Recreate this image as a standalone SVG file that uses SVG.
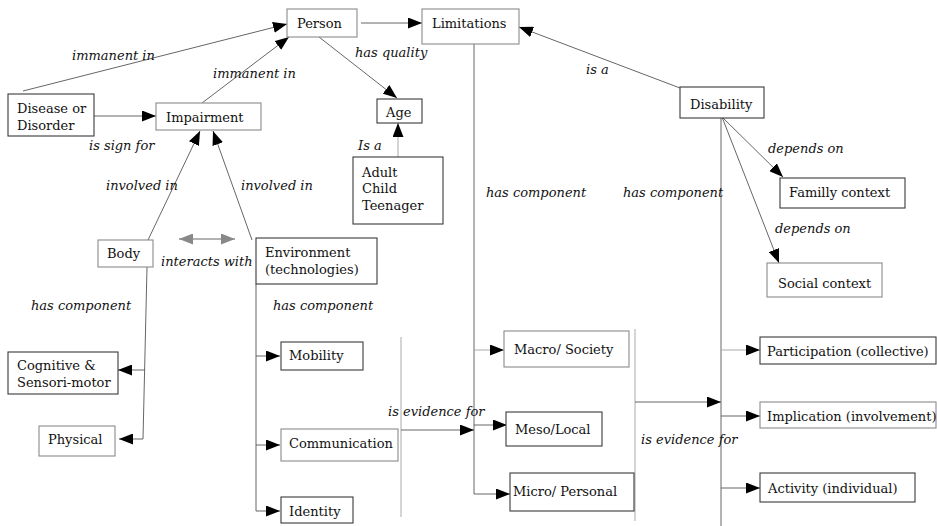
<svg xmlns="http://www.w3.org/2000/svg" width="937" height="526" viewBox="0 0 937 526">
<style>
.bx{fill:#fff;stroke:#3a3a3a;stroke-width:1.1}
.bl{fill:#fff;stroke:#8a8a8a;stroke-width:1.1}
.t{font-family:"DejaVu Serif","Liberation Serif",serif;font-size:13px;fill:#111}
.l{font-family:"DejaVu Serif","Liberation Serif",serif;font-size:13px;font-style:italic;fill:#111}
.c{fill:none;stroke:#555;stroke-width:0.9}
.cl{fill:none;stroke:#aaa;stroke-width:1}
.cg{fill:none;stroke:#999;stroke-width:1.4}
</style>
<defs>
<marker id="a" markerUnits="userSpaceOnUse" markerWidth="15" markerHeight="11" refX="14" refY="5.5" orient="auto"><path d="M0,0 L14,5.5 L0,11 z" fill="#000"/></marker>
<marker id="g" markerUnits="userSpaceOnUse" markerWidth="15" markerHeight="11" refX="14" refY="5.5" orient="auto-start-reverse"><path d="M0,0 L14,5.5 L0,11 z" fill="#888"/></marker>
</defs>
<g id="connectors">
<line class="c" x1="361" y1="23" x2="422" y2="23" marker-end="url(#a)"/>
<line class="c" x1="23" y1="91" x2="287" y2="24" marker-end="url(#a)"/>
<line class="c" x1="94" y1="116" x2="156" y2="116" marker-end="url(#a)"/>
<line class="c" x1="202" y1="103" x2="289" y2="37" marker-end="url(#a)"/>
<line class="c" x1="319" y1="37" x2="397" y2="98" marker-end="url(#a)"/>
<line class="cl" x1="398" y1="157" x2="398" y2="123" marker-end="url(#a)"/>
<line class="c" x1="148" y1="240" x2="200" y2="131" marker-end="url(#a)"/>
<line class="c" x1="252" y1="240" x2="213" y2="131" marker-end="url(#a)"/>
<line class="cg" x1="179" y1="239" x2="235" y2="239" marker-start="url(#g)" marker-end="url(#g)"/>
<path class="c" d="M147,267 L143,439"/>
<line class="c" x1="145" y1="370" x2="118" y2="370" marker-end="url(#a)"/>
<line class="c" x1="143" y1="439" x2="119" y2="439" marker-end="url(#a)"/>
<path class="c" d="M256,284 V511"/>
<line class="c" x1="256" y1="356" x2="280" y2="356" marker-end="url(#a)"/>
<line class="c" x1="256" y1="445" x2="280" y2="445" marker-end="url(#a)"/>
<line class="c" x1="256" y1="511" x2="280" y2="511" marker-end="url(#a)"/>
<path class="cl" d="M401,337 V517"/>
<line class="c" x1="401" y1="430" x2="474" y2="430" marker-end="url(#a)"/>
<path class="c" d="M474,44 V494"/>
<line class="cl" x1="474" y1="350" x2="504" y2="350" marker-end="url(#a)"/>
<line class="c" x1="474" y1="425" x2="507" y2="425" marker-end="url(#a)"/>
<line class="c" x1="474" y1="494" x2="510" y2="494" marker-end="url(#a)"/>
<path class="cl" d="M635,329 V521"/>
<line class="c" x1="635" y1="402" x2="721" y2="402" marker-end="url(#a)"/>
<line class="c" x1="680" y1="88" x2="519" y2="27" marker-end="url(#a)"/>
<path class="c" d="M721,117 V526"/>
<line class="cl" x1="721" y1="350" x2="760" y2="350" marker-end="url(#a)"/>
<line class="c" x1="721" y1="416" x2="760" y2="416" marker-end="url(#a)"/>
<line class="c" x1="721" y1="488" x2="760" y2="488" marker-end="url(#a)"/>
<line class="c" x1="722" y1="117" x2="783" y2="177" marker-end="url(#a)"/>
<line class="c" x1="722" y1="117" x2="779" y2="263" marker-end="url(#a)"/>
</g>
<g id="labels">
<text class="l" x="72" y="60">immanent in</text>
<text class="l" x="213" y="78">immanent in</text>
<text class="l" x="355" y="57">has quality</text>
<text class="l" x="89" y="150">is sign for</text>
<text class="l" x="358" y="150">Is a</text>
<text class="l" x="106" y="190">involved in</text>
<text class="l" x="241" y="190">involved in</text>
<text class="l" x="161" y="266">interacts with</text>
<text class="l" x="31" y="310">has component</text>
<text class="l" x="273" y="310">has component</text>
<text class="l" x="586" y="74">is a</text>
<text class="l" x="486" y="197">has component</text>
<text class="l" x="623" y="197">has component</text>
<text class="l" x="768" y="153">depends on</text>
<text class="l" x="775" y="233">depends on</text>
<text class="l" x="388" y="416">is evidence for</text>
<text class="l" x="641" y="444">is evidence for</text>
</g>
<g id="person"><rect class="bl" x="287" y="9" width="70" height="28"/><text class="t" x="297" y="28">Person</text></g>
<g id="limitations"><rect class="bl" x="422" y="9" width="97" height="35"/><text class="t" x="432" y="28">Limitations</text></g>
<g id="disease"><rect class="bx" x="8" y="94" width="86" height="42"/><text class="t" x="17" y="113">Disease or</text><text class="t" x="17" y="130">Disorder</text></g>
<g id="impairment"><rect class="bl" x="156" y="103" width="105" height="27"/><text class="t" x="166" y="122">Impairment</text></g>
<g id="age"><rect class="bx" x="377" y="99" width="45" height="24"/><text class="t" x="386" y="117">Age</text></g>
<g id="agegroups"><rect class="bx" x="353" y="157" width="90" height="67"/><text class="t" x="362" y="177">Adult</text><text class="t" x="362" y="193">Child</text><text class="t" x="362" y="210">Teenager</text></g>
<g id="disability"><rect class="bx" x="680" y="87" width="84" height="31"/><text class="t" x="690" y="109">Disability</text></g>
<g id="family"><rect class="bx" x="780" y="178" width="125" height="30"/><text class="t" x="789" y="197">Familly context</text></g>
<g id="social"><rect class="bl" x="767" y="263" width="115" height="34"/><text class="t" x="778" y="288">Social context</text></g>
<g id="body"><rect class="bl" x="98" y="240" width="55" height="27"/><text class="t" x="107" y="258">Body</text></g>
<g id="environment"><rect class="bx" x="256" y="238" width="121" height="46"/><text class="t" x="265" y="257">Environment</text><text class="t" x="265" y="274">(technologies)</text></g>
<g id="cognitive"><rect class="bx" x="8" y="352" width="110" height="42"/><text class="t" x="17" y="370">Cognitive &amp;</text><text class="t" x="17" y="387">Sensori-motor</text></g>
<g id="physical"><rect class="bl" x="39" y="426" width="76" height="30"/><text class="t" x="48" y="444">Physical</text></g>
<g id="mobility"><rect class="bx" x="281" y="342" width="82" height="28"/><text class="t" x="289" y="360">Mobility</text></g>
<g id="communication"><rect class="bl" x="281" y="429" width="117" height="32"/><text class="t" x="289" y="448">Communication</text></g>
<g id="identity"><rect class="bx" x="281" y="497" width="72" height="26"/><text class="t" x="289" y="516">Identity</text></g>
<g id="macro"><rect class="bl" x="504" y="331" width="125" height="36"/><text class="t" x="514" y="354">Macro/ Society</text></g>
<g id="meso"><rect class="bx" x="506" y="412" width="96" height="34"/><text class="t" x="515" y="434">Meso/Local</text></g>
<g id="micro"><rect class="bx" x="510" y="473" width="124" height="38"/><text class="t" x="513" y="496">Micro/ Personal</text></g>
<g id="participation"><rect class="bx" x="760" y="337" width="176" height="27"/><text class="t" x="767" y="356">Participation (collective)</text></g>
<g id="implication"><rect class="bl" x="760" y="402" width="176" height="26"/><text class="t" x="767" y="421">Implication (involvement)</text></g>
<g id="activity"><rect class="bx" x="760" y="473" width="155" height="29"/><text class="t" x="768" y="493">Activity (individual)</text></g>
</svg>
